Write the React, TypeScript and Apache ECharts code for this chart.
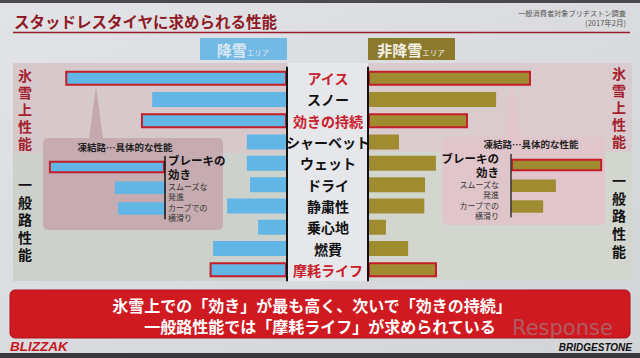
import React, { useEffect, useRef } from "react";
import * as echarts from "echarts";

const categories = ["アイス", "スノー", "効きの持続", "シャーベット", "ウェット", "ドライ", "静粛性", "乗心地", "燃費", "摩耗ライフ"];
const highlighted = ["アイス", "効きの持続", "摩耗ライフ"];
const snowAreaValues = [63, 38.3, 41.5, 11.4, 11.4, 10.5, 17, 8.2, 21, 22];
const nonSnowAreaValues = [46.3, 36.4, 28.4, 8.8, 19.3, 16.2, 16, 5.1, 11.4, 19.6];

const iceCategories = ["ブレーキの\n効き", "スムーズな\n発進", "カーブでの\n横滑り"];
const iceHighlighted = ["ブレーキの\n効き"];
const snowAreaIce = [32.9, 14.2, 13.3];
const nonSnowAreaIce = [25.8, 12.7, 9.1];

const FONT = "'Noto Sans CJK JP', 'Noto Sans', sans-serif";
const BLUE = "#62b6e6";
const OLIVE = "#9f8c30";
const RED_BORDER = "#c41e28";

function barData(values: number[], cats: string[], hl: string[]) {
  return values.map((v, i) => ({
    value: v,
    itemStyle: hl.includes(cats[i]) ? { borderColor: RED_BORDER, borderWidth: 2 } : { borderWidth: 0 },
  }));
}

function insetFormatter(v: string) {
  const parts = v.split("\n");
  if (iceHighlighted.includes(v)) return parts.map((p) => `{b|${p}}`).join("\n");
  return `{sp|}\n` + parts.map((p) => `{s|${p}}`).join("\n");
}

const insetRich = {
  b: { fontSize: 11.5, fontWeight: "bold", color: "#111", lineHeight: 14, fontFamily: FONT },
  s: { fontSize: 8, color: "#333", lineHeight: 10, fontFamily: FONT },
  sp: { fontSize: 1, lineHeight: 8 },
};

export default function App() {
  const ref = useRef<HTMLDivElement>(null);
  useEffect(() => {
    document.body.style.margin = "0";
    const chart = echarts.init(ref.current!, null, { renderer: "svg" });
    const vLabel = (txt: string, x: number, y: number, color: string, lh: number) =>
      txt.split("").map((ch, i) => ({
        type: "text",
        x,
        y: y + i * lh,
        z: 10,
        style: {
          text: ch,
          fontSize: 14,
          lineHeight: 14,
          fontWeight: "bold",
          fontFamily: FONT,
          fill: color,
          align: "center",
          verticalAlign: "middle",
        },
      }));
    chart.setOption({
      animation: false,
      backgroundColor: {
        type: "linear", x: 0, y: 0, x2: 1, y2: 1,
        colorStops: [
          { offset: 0, color: "#e2e3e6" },
          { offset: 1, color: "#d3d4d7" },
        ],
      },
      graphic: [
        { type: "rect", z: 0, shape: { x: 0, y: 0, width: 640, height: 3 }, style: { fill: "#4a4a4c" } },
        { type: "rect", z: 0, shape: { x: 0, y: 353, width: 640, height: 5 }, style: { fill: "#3a3a3c" } },
        // panels
        { type: "rect", z: 0, shape: { x: 13, y: 63, width: 274, height: 90 }, style: { fill: "#d7c8cc" } },
        { type: "rect", z: 0, shape: { x: 13, y: 153, width: 274, height: 128 }, style: { fill: "#ccd1cb" } },
        { type: "rect", z: 0, shape: { x: 368, y: 63, width: 264, height: 89 }, style: { fill: "#dacbcf" } },
        { type: "rect", z: 0, shape: { x: 368, y: 152, width: 264, height: 129 }, style: { fill: "#d2d6cf" } },
        { type: "rect", z: 0, shape: { x: 288, y: 63, width: 80, height: 218 }, style: { fill: "#e6e7ea" } },
        // inset boxes and pointers
        { type: "polygon", z: 1, shape: { points: [[96, 86], [89, 139], [103, 139]] }, style: { fill: "#c4a8ae" } },
        { type: "rect", z: 1, shape: { x: 43, y: 138, width: 180, height: 92, r: 5 }, style: { fill: "#c6abb1" } },
        { type: "polygon", z: 1, shape: { points: [[512, 78], [505, 138], [520, 138]] }, style: { fill: "#e2c6cc" } },
        { type: "rect", z: 1, shape: { x: 442, y: 137, width: 163, height: 88, r: 5 }, style: { fill: "#e0c5cb" } },
        {
          type: "text", z: 10, x: 125, y: 147,
          style: { text: "凍結路…具体的な性能", fontSize: 9.5, fontWeight: "bold", fontFamily: FONT, fill: "#222", align: "center", verticalAlign: "middle" },
        },
        {
          type: "text", z: 10, x: 531, y: 144,
          style: { text: "凍結路…具体的な性能", fontSize: 9.5, fontWeight: "bold", fontFamily: FONT, fill: "#222", align: "center", verticalAlign: "middle" },
        },
        // title
        {
          type: "text", z: 10, x: 14, y: 21,
          style: { text: "スタッドレスタイヤに求められる性能", fontSize: 15.5, fontWeight: "bold", fontFamily: FONT, fill: "#8e1b25", verticalAlign: "middle" },
        },
        { type: "line", z: 10, shape: { x1: 13, y1: 32.5, x2: 630, y2: 32.5 }, style: { stroke: "#9a1c28", lineWidth: 1.5 } },
        {
          type: "text", z: 10, x: 626, y: 13,
          style: { text: "一般消費者対象ブリヂストン調査", fontSize: 7.2, fontFamily: FONT, fill: "#555", align: "right", verticalAlign: "middle" },
        },
        {
          type: "text", z: 10, x: 626, y: 22,
          style: { text: "(2017年2月)", fontSize: 7.5, fontFamily: FONT, fill: "#555", align: "right", verticalAlign: "middle" },
        },
        // area boxes
        { type: "rect", z: 1, shape: { x: 200, y: 38, width: 87, height: 22 }, style: { fill: "#72b9e3" } },
        {
          type: "text", z: 10, x: 243, y: 49,
          style: {
            text: "{a|降雪}{b|エリア}", align: "center", verticalAlign: "middle",
            rich: {
              a: { fontSize: 15, fontWeight: "bold", fontFamily: FONT, fill: "#d9e8f2", color: "#d9e8f2" },
              b: { fontSize: 7.5, fontFamily: FONT, fill: "#d9e8f2", color: "#d9e8f2", padding: [6, 0, 0, 0] },
            },
          },
        },
        { type: "rect", z: 1, shape: { x: 368, y: 38, width: 87, height: 22 }, style: { fill: "#8b7a2d" } },
        {
          type: "text", z: 10, x: 411, y: 49,
          style: {
            text: "{a|非降雪}{b|エリア}", align: "center", verticalAlign: "middle",
            rich: {
              a: { fontSize: 15, fontWeight: "bold", fontFamily: FONT, fill: "#f4f1e6", color: "#f4f1e6" },
              b: { fontSize: 7.5, fontFamily: FONT, fill: "#f4f1e6", color: "#f4f1e6", padding: [6, 0, 0, 0] },
            },
          },
        },
        // vertical labels
        ...vLabel("氷雪上性能", 25, 75, "#a3202d", 17),
        ...vLabel("一般路性能", 25, 184, "#111", 17.5),
        ...vLabel("氷雪上性能", 619, 73, "#a3202d", 17),
        ...vLabel("一般路性能", 619, 180, "#111", 17.7),
        // banner
        { type: "rect", z: 5, shape: { x: 10, y: 290, width: 620, height: 48, r: 5 }, style: { fill: "#cf1a21", stroke: "#a8121a", lineWidth: 1 } },
        {
          type: "text", z: 10, x: 312, y: 305,
          style: { text: "氷雪上での「効き」が最も高く、次いで「効きの持続」", fontSize: 16, fontWeight: "bold", fontFamily: FONT, fill: "#fff", align: "center", verticalAlign: "middle" },
        },
        {
          type: "text", z: 10, x: 320, y: 326,
          style: { text: "一般路性能では「摩耗ライフ」が求められている", fontSize: 16, fontWeight: "bold", fontFamily: FONT, fill: "#fff", align: "center", verticalAlign: "middle" },
        },
        {
          type: "text", z: 11, x: 512, y: 328,
          style: { text: "Response", fontSize: 21, lineHeight: 20, fontFamily: "'DejaVu Sans', sans-serif", fill: "rgba(150,150,155,0.55)", verticalAlign: "middle" },
        },
        {
          type: "text", z: 10, x: 10, y: 346,
          style: { text: "BLIZZAK", fontSize: 13.5, fontWeight: 900, fontStyle: "italic", fontFamily: "'Liberation Sans', sans-serif", fill: "#c8161d", verticalAlign: "middle" },
        },
        {
          type: "text", z: 10, x: 632, y: 347,
          style: { text: "BRIDGESTONE", fontSize: 10, lineHeight: 10, fontWeight: 900, fontStyle: "italic", fontFamily: "'Liberation Sans', sans-serif", fill: "#111", align: "right", verticalAlign: "middle" },
        },
      ],
      grid: [
        { left: 23, width: 264, top: 67.5, height: 213 },
        { left: 368, width: 264, top: 67.5, height: 213 },
        { left: 45, width: 120, top: 156.5, height: 62.3 },
        { left: 511, width: 94, top: 154.5, height: 62.3 },
      ],
      xAxis: [
        { gridIndex: 0, type: "value", min: 0, max: 75, inverse: true, show: false },
        { gridIndex: 1, type: "value", min: 0, max: 75, show: false },
        { gridIndex: 2, type: "value", min: 0, max: 34, inverse: true, show: false },
        { gridIndex: 3, type: "value", min: 0, max: 26.6, show: false },
      ],
      yAxis: [
        {
          gridIndex: 0, type: "category", data: categories, inverse: true, position: "right", z: 3,
          axisLine: { lineStyle: { color: "#111", width: 2 } }, axisTick: { show: false }, axisLabel: { show: false },
        },
        {
          gridIndex: 1, type: "category", data: categories, inverse: true, position: "left", z: 3,
          axisLine: { lineStyle: { color: "#111", width: 2 } }, axisTick: { show: false },
          axisLabel: {
            margin: 40, align: "center", interval: 0,
            formatter: (v: string) => (highlighted.includes(v) ? `{r|${v}}` : `{n|${v}}`),
            rich: {
              r: { fontSize: 14, fontWeight: "bold", color: "#c8202c", fontFamily: FONT },
              n: { fontSize: 14, fontWeight: "bold", color: "#111", fontFamily: FONT },
            },
          },
        },
        {
          gridIndex: 2, type: "category", data: iceCategories, inverse: true, position: "right", z: 3,
          axisLine: { lineStyle: { color: "#111", width: 1.5 } }, axisTick: { show: false },
          axisLabel: { margin: 3, align: "left", interval: 0, hideOverlap: false, formatter: insetFormatter, rich: insetRich },
        },
        {
          gridIndex: 3, type: "category", data: iceCategories, inverse: true, position: "left", z: 3,
          axisLine: { lineStyle: { color: "#333", width: 1.5 } }, axisTick: { show: false },
          axisLabel: { margin: 12, align: "right", interval: 0, hideOverlap: false, formatter: insetFormatter, rich: insetRich },
        },
      ],
      series: [
        { type: "bar", xAxisIndex: 0, yAxisIndex: 0, barWidth: 15, itemStyle: { color: BLUE }, data: barData(snowAreaValues, categories, highlighted) },
        { type: "bar", xAxisIndex: 1, yAxisIndex: 1, barWidth: 15, itemStyle: { color: OLIVE }, data: barData(nonSnowAreaValues, categories, highlighted) },
        { type: "bar", xAxisIndex: 2, yAxisIndex: 2, barWidth: 12.5, itemStyle: { color: BLUE }, data: barData(snowAreaIce, iceCategories, iceHighlighted) },
        { type: "bar", xAxisIndex: 3, yAxisIndex: 3, barWidth: 12.5, itemStyle: { color: OLIVE }, data: barData(nonSnowAreaIce, iceCategories, iceHighlighted) },
      ],
    });
    return () => chart.dispose();
  }, []);
  return <div ref={ref} style={{ position: "fixed", left: 0, top: 0, width: 640, height: 358 }} />;
}
